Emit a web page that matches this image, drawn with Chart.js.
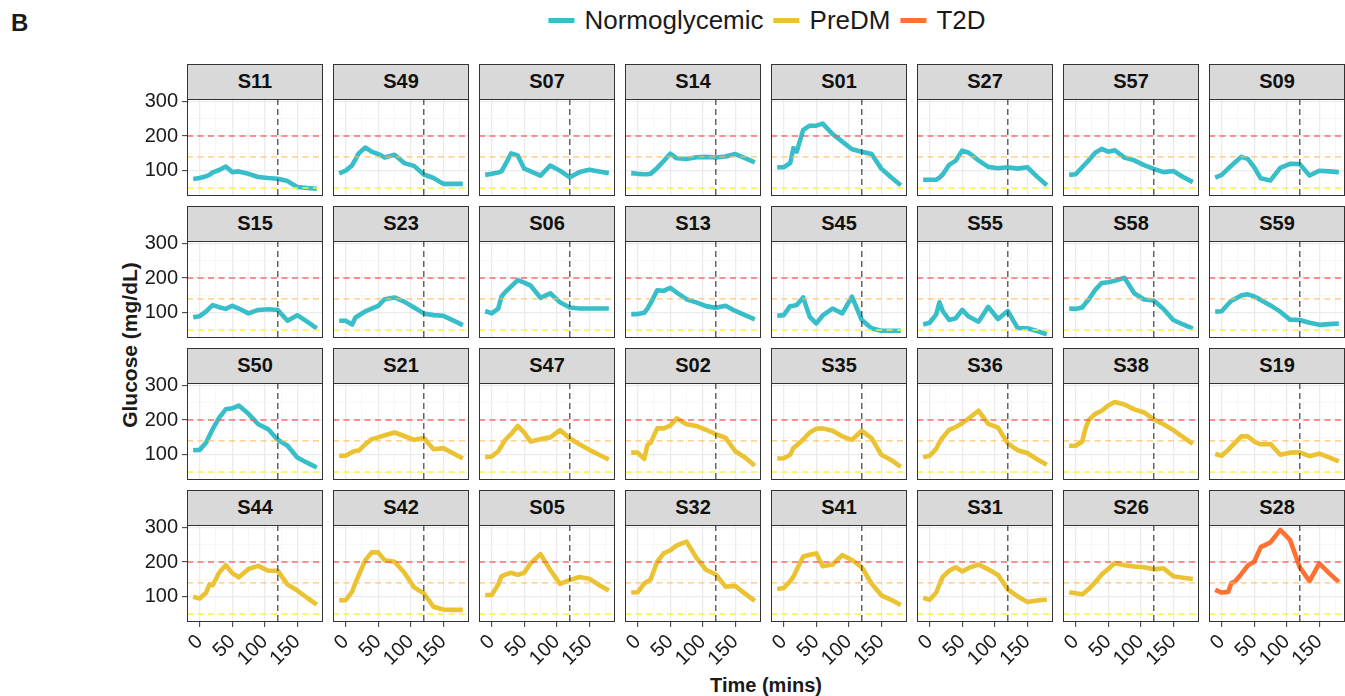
<!DOCTYPE html>
<html>
<head>
<meta charset="utf-8">
<script src="https://cdn.jsdelivr.net/npm/chart.js@4.4.1/dist/chart.umd.min.js"></script>
<style>
  html, body { margin: 0; padding: 0; background: #fff; }
  body { position: relative; width: 1345px; height: 696px; overflow: hidden;
         font-family: "Liberation Sans", Arial, Helvetica, sans-serif; color: #1a1a1a; }
  canvas { position: absolute; }
  .strip { position: absolute; box-sizing: border-box; background: #d9d9d9; border: 1px solid #333;
           font-weight: bold; font-size: 20px; text-align: center; line-height: 33px; color: #111; }
  #legend { position: absolute; left: 772px; top: 0; height: 40px; transform: translateX(-50%);
            display: flex; align-items: center; white-space: nowrap; font-size: 26px; }
  #legend .key { display: inline-block; width: 26px; height: 5px; margin-right: 10px; }
  #legend .lab { margin-right: 10px; }
  #panelTag { position: absolute; left: 11px; top: 9px; font-weight: bold; font-size: 24px; }
  #yTitle { position: absolute; left: 130px; top: 345px; transform: translate(-50%, -50%) rotate(-90deg);
            font-weight: bold; font-size: 21px; white-space: nowrap; }
  #xTitle { position: absolute; left: 766px; top: 685px; transform: translate(-50%, -50%);
            font-weight: bold; font-size: 20px; white-space: nowrap; }
</style>
</head>
<body>
<div id="panelTag">B</div>
<div id="legend"></div>
<div id="yTitle">Glucose (mg/dL)</div>
<div id="xTitle">Time (mins)</div>
<script>
// Sampling times of the glucose challenge (minutes)
const minutes = [-10, 0, 10, 15, 20, 30, 40, 50, 60, 75, 90, 105, 120, 135, 150, 165, 180];

// Glucose (mg/dL) per subject, one value per sampling time
const S11 = [76, 79, 84, 88, 95, 102, 112, 96, 98, 91, 82, 79, 77, 70, 53, 50, 48];
const S49 = [92, 100, 116, 133, 150, 167, 155, 148, 138, 146, 122, 114, 89, 79, 62, 62, 62];
const S07 = [88, 91, 95, 98, 115, 150, 144, 106, 98, 86, 115, 100, 81, 96, 103, 98, 93];
const S14 = [93, 91, 90, 90, 91, 108, 128, 149, 136, 134, 139, 140, 138, 141, 148, 136, 124];
const S01 = [110, 110, 122, 165, 155, 218, 230, 230, 236, 206, 184, 162, 155, 148, 106, 81, 58];
const S27 = [74, 74, 74, 80, 89, 117, 129, 158, 152, 130, 111, 107, 110, 106, 110, 83, 58];
const S57 = [88, 90, 110, 120, 130, 152, 163, 155, 159, 138, 130, 116, 105, 96, 99, 82, 67];
const S09 = [80, 88, 106, 115, 123, 140, 134, 110, 78, 72, 108, 120, 119, 86, 100, 98, 96];

const S15 = [87, 90, 104, 113, 122, 116, 111, 120, 112, 98, 108, 110, 108, 77, 93, 74, 55];
const S23 = [77, 77, 66, 86, 92, 104, 112, 120, 139, 144, 132, 115, 98, 93, 91, 78, 64];
const S06 = [105, 98, 112, 146, 158, 176, 194, 187, 178, 143, 156, 130, 115, 112, 112, 112, 112];
const S13 = [96, 96, 100, 112, 128, 165, 163, 172, 158, 139, 130, 119, 114, 120, 105, 93, 81];
const S45 = [91, 93, 119, 120, 122, 144, 88, 69, 92, 112, 98, 146, 79, 55, 48, 48, 48];
const S55 = [66, 71, 95, 130, 105, 79, 84, 108, 89, 74, 117, 82, 105, 56, 55, 47, 38];
const S58 = [112, 111, 115, 127, 138, 166, 186, 188, 192, 201, 156, 138, 135, 111, 79, 66, 54];
const S59 = [103, 104, 125, 135, 139, 150, 153, 147, 137, 121, 103, 80, 79, 71, 65, 67, 69];

const S50 = [113, 114, 135, 155, 174, 207, 231, 234, 242, 218, 188, 174, 143, 126, 92, 77, 63];
const S21 = [97, 97, 108, 111, 112, 130, 145, 150, 156, 164, 154, 143, 148, 116, 119, 104, 89];
const S47 = [93, 95, 110, 125, 141, 160, 183, 164, 138, 145, 150, 171, 147, 130, 114, 100, 86];
const S02 = [106, 106, 88, 128, 135, 176, 176, 184, 205, 188, 183, 172, 159, 149, 110, 92, 68];
const S35 = [89, 90, 100, 120, 127, 144, 164, 175, 176, 169, 153, 143, 169, 148, 100, 85, 65];
const S36 = [93, 97, 117, 136, 150, 172, 180, 191, 205, 227, 189, 178, 133, 113, 105, 87, 71];
const S38 = [126, 126, 138, 175, 200, 218, 227, 242, 252, 245, 231, 222, 202, 188, 171, 151, 131];
const S19 = [102, 97, 114, 124, 133, 153, 153, 138, 130, 131, 100, 106, 107, 96, 103, 92, 81];

const S44 = [100, 95, 112, 136, 133, 170, 191, 168, 156, 180, 189, 175, 175, 135, 118, 97, 77];
const S42 = [90, 90, 115, 140, 162, 205, 228, 228, 205, 201, 170, 127, 110, 71, 63, 62, 62];
const S05 = [105, 105, 135, 159, 163, 169, 163, 169, 197, 223, 177, 137, 148, 157, 152, 134, 118];
const S32 = [112, 113, 138, 144, 150, 201, 225, 234, 248, 259, 213, 178, 164, 129, 131, 109, 88];
const S41 = [122, 125, 145, 158, 178, 216, 221, 225, 188, 193, 220, 206, 185, 138, 104, 91, 76];
const S31 = [97, 91, 112, 136, 157, 175, 185, 173, 183, 193, 179, 163, 121, 101, 85, 89, 92];
const S26 = [113, 110, 107, 114, 122, 142, 164, 180, 197, 191, 187, 185, 179, 182, 159, 155, 151];
const S28 = [120, 112, 114, 140, 143, 165, 190, 201, 243, 257, 293, 264, 185, 145, 196, 168, 142];

// Panel order (row by row) and glycemic status of each subject
const subjects = ['S11', 'S49', 'S07', 'S14', 'S01', 'S27', 'S57', 'S09',
                  'S15', 'S23', 'S06', 'S13', 'S45', 'S55', 'S58', 'S59',
                  'S50', 'S21', 'S47', 'S02', 'S35', 'S36', 'S38', 'S19',
                  'S44', 'S42', 'S05', 'S32', 'S41', 'S31', 'S26', 'S28'];
const status = ['Normoglycemic', 'Normoglycemic', 'Normoglycemic', 'Normoglycemic', 'Normoglycemic', 'Normoglycemic', 'Normoglycemic', 'Normoglycemic',
                'Normoglycemic', 'Normoglycemic', 'Normoglycemic', 'Normoglycemic', 'Normoglycemic', 'Normoglycemic', 'Normoglycemic', 'Normoglycemic',
                'Normoglycemic', 'PreDM', 'PreDM', 'PreDM', 'PreDM', 'PreDM', 'PreDM', 'PreDM',
                'PreDM', 'PreDM', 'PreDM', 'PreDM', 'PreDM', 'PreDM', 'PreDM', 'T2D'];
const groups = ['Normoglycemic', 'PreDM', 'T2D'];

// Reference levels and the 2-hour mark
const thresholds = [200, 140, 50];
const twoHourMark = 120;

// Axis breaks
const xTicks = [0, 50, 100, 150];
const xMinor = [25, 75, 125, 175];
const yTicks = [100, 200, 300];
const yMinor = [50, 150, 250];

const glucoseBySubject = { S11, S49, S07, S14, S01, S27, S57, S09, S15, S23, S06, S13, S45, S55, S58, S59,
                           S50, S21, S47, S02, S35, S36, S38, S19, S44, S42, S05, S32, S41, S31, S26, S28 };

// ---- styling ----
const groupColors = { Normoglycemic: '#37bec8', PreDM: '#eac232', T2D: '#ff7033' };
const thresholdColors = ['rgba(255,85,85,0.85)', 'rgba(255,188,85,0.85)', 'rgba(248,245,50,0.95)'];
const FONT = '"Liberation Sans", Arial, Helvetica, sans-serif';
const panelW = 136, panelH = 97, stripH = 35;
const colX = c => 187 + 146 * c;
const rowY = r => 64 + 142 * r;

// Legend
const legend = document.getElementById('legend');
groups.forEach(g => {
  const key = document.createElement('span');
  key.className = 'key';
  key.style.background = groupColors[g];
  const lab = document.createElement('span');
  lab.className = 'lab';
  lab.textContent = g;
  legend.appendChild(key);
  legend.appendChild(lab);
});

// Reference lines and panel frame
const panelDecor = {
  id: 'panelDecor',
  afterDatasetsDraw(chart) {
    const { ctx, chartArea: a, scales: { x, y } } = chart;
    ctx.save();
    ctx.beginPath();
    ctx.rect(a.left, a.top, a.width, a.height);
    ctx.clip();
    ctx.lineWidth = 1.4;
    ctx.setLineDash([6, 4.5]);
    thresholds.forEach((v, i) => {
      const py = y.getPixelForValue(v);
      ctx.strokeStyle = thresholdColors[i];
      ctx.beginPath();
      ctx.moveTo(a.left, py);
      ctx.lineTo(a.right, py);
      ctx.stroke();
    });
    const px = x.getPixelForValue(twoHourMark);
    ctx.strokeStyle = 'rgba(70,70,70,0.9)';
    ctx.setLineDash([6, 4]);
    ctx.beginPath();
    ctx.moveTo(px, a.top);
    ctx.lineTo(px, a.bottom);
    ctx.stroke();
    ctx.restore();
  },
  afterDraw(chart) {
    const { ctx, chartArea: a } = chart;
    ctx.save();
    ctx.strokeStyle = '#333';
    ctx.lineWidth = 1;
    ctx.strokeRect(Math.round(a.left) + 0.5, Math.round(a.top) + 0.5,
                   Math.round(a.width) - 1, Math.round(a.height) - 1);
    ctx.restore();
  }
};

function buildPanel(name, idx) {
  const r = Math.floor(idx / 8), c = idx % 8;
  const showY = c === 0, showX = r === 3;
  const L = showY ? 80 : 0, T = showY ? 14 : 0, B = showX ? 75 : 0;

  const canvas = document.createElement('canvas');
  canvas.width = panelW + L;
  canvas.height = panelH + T + B;
  canvas.style.left = (colX(c) - L) + 'px';
  canvas.style.top = (rowY(r) + stripH - T) + 'px';
  document.body.appendChild(canvas);

  const strip = document.createElement('div');
  strip.className = 'strip';
  strip.style.left = colX(c) + 'px';
  strip.style.top = rowY(r) + 'px';
  strip.style.width = panelW + 'px';
  strip.style.height = (stripH + 1) + 'px';
  strip.textContent = name;
  document.body.appendChild(strip);

  const values = glucoseBySubject[name];
  const color = groupColors[status[idx]];
  const isMajorX = v => xTicks.includes(v);
  const isMajorY = v => yTicks.includes(v);

  new Chart(canvas, {
    type: 'line',
    data: {
      datasets: [{
        data: minutes.map((m, i) => ({ x: m, y: values[i] })),
        borderColor: color,
        borderWidth: 4.6,
        borderJoinStyle: 'round',
        pointRadius: 0,
        tension: 0,
        fill: false
      }]
    },
    options: {
      responsive: false,
      animation: false,
      devicePixelRatio: 1,
      layout: { padding: { top: T, left: 0, right: 0, bottom: 0 } },
      plugins: { legend: { display: false }, tooltip: { enabled: false } },
      scales: {
        x: {
          type: 'linear', min: -19.5, max: 189.5,
          afterBuildTicks: s => { s.ticks = xTicks.concat(xMinor).sort((a, b) => a - b).map(v => ({ value: v })); },
          afterFit: s => { s.height = B; s.paddingLeft = 0; s.paddingRight = 0; },
          border: { display: false },
          grid: {
            drawTicks: showX, tickLength: 5,
            color: ctx => isMajorX(ctx.tick.value) ? '#ebebeb' : '#f3f3f3',
            lineWidth: ctx => isMajorX(ctx.tick.value) ? 1.3 : 0.7,
            tickColor: ctx => isMajorX(ctx.tick.value) ? '#333' : 'rgba(0,0,0,0)',
            tickWidth: 1
          },
          ticks: {
            display: showX, autoSkip: false, minRotation: 45, maxRotation: 45, padding: 3,
            color: '#1a1a1a', font: { family: FONT, size: 20 },
            callback: v => isMajorX(v) ? String(v) : ''
          }
        },
        y: {
          type: 'linear', min: 27, max: 307,
          afterBuildTicks: s => { s.ticks = yMinor.concat(yTicks).sort((a, b) => a - b).map(v => ({ value: v })); },
          afterFit: s => { s.width = L; s.paddingTop = 0; s.paddingBottom = 0; },
          border: { display: false },
          grid: {
            drawTicks: showY, tickLength: 5,
            color: ctx => isMajorY(ctx.tick.value) ? '#ebebeb' : '#f3f3f3',
            lineWidth: ctx => isMajorY(ctx.tick.value) ? 1.3 : 0.7,
            tickColor: ctx => isMajorY(ctx.tick.value) ? '#333' : 'rgba(0,0,0,0)',
            tickWidth: 1
          },
          ticks: {
            display: showY, autoSkip: false, padding: 4,
            color: '#1a1a1a', font: { family: FONT, size: 20 },
            callback: v => isMajorY(v) ? String(v) : ''
          }
        }
      }
    },
    plugins: [panelDecor]
  });
}

subjects.forEach(buildPanel);
</script>
</body>
</html>
